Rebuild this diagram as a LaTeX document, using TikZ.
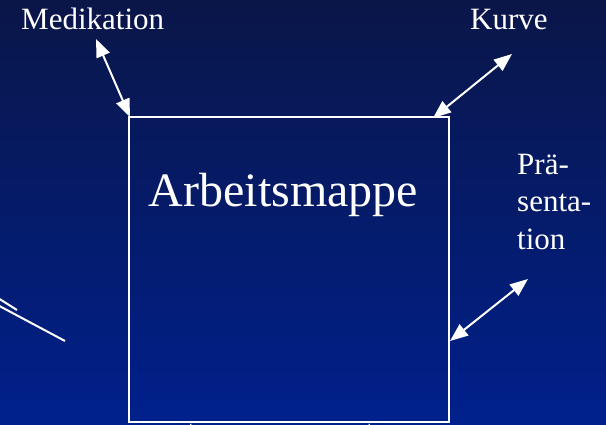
\documentclass[tikz,border=0pt]{standalone}
\usepackage{fontspec}
\setmainfont{Liberation Serif}
\usetikzlibrary{arrows.meta}
\definecolor{bgtop}{RGB}{10,22,72}
\definecolor{bgbot}{RGB}{0,32,140}
\begin{document}
\begin{tikzpicture}[x=1pt,y=-1pt,
  lbl/.style={text=white,font=\fontsize{31}{37}\selectfont,inner sep=0pt},
  dbl/.style={draw=white,line width=2pt,{Triangle[length=18pt,width=14pt]}-{Triangle[length=18pt,width=14pt]}},
  sgl/.style={draw=white,line width=2pt,-{Triangle[length=18pt,width=14pt]}},
  plain/.style={draw=white,line width=2pt}]
\useasboundingbox (0,0) rectangle (606,425);
\shade[top color=bgtop,bottom color=bgbot] (0,0) rectangle (606,425);
\clip (0,0) rectangle (606,425);
\node[draw=white,line width=2.5pt,minimum width=320pt,minimum height=305pt,inner sep=0pt] (box) at (289,269.5) {};
\node[text=white,font=\fontsize{48}{56}\selectfont,inner sep=0pt,anchor=base] (title) at (283.5,207) {Arbeitsmappe};
\node[lbl,anchor=base west] (med) at (21,30) {Medikation};
\node[lbl,anchor=base west] (kur) at (470,30) {Kurve};
\node[lbl,anchor=base west] (pra1) at (517,175) {Prä-};
\node[lbl,anchor=base west] (pra2) at (517,212) {senta-};
\node[lbl,anchor=base west] (pra3) at (517,250) {tion};
\coordinate (m1) at (96,39);
\coordinate (m2) at (130,117);
\coordinate (k1) at (512,54);
\coordinate (k2) at (433,118);
\coordinate (p1) at (528,279);
\coordinate (p2) at (450,341);
\coordinate (b1) at (191,423);
\coordinate (b1s) at (186,470);
\coordinate (b2) at (369,423);
\coordinate (b2s) at (374,470);
\coordinate (l1a) at (-10,293);
\coordinate (l1b) at (17,310);
\coordinate (l2a) at (-10,301);
\coordinate (l2b) at (65,341);
\draw[dbl] (m1) -- (m2);
\draw[dbl] (k1) -- (k2);
\draw[dbl] (p1) -- (p2);
\draw[sgl] (b1s) -- (b1);
\draw[sgl] (b2s) -- (b2);
\draw[plain] (l1a) -- (l1b);
\draw[plain] (l2a) -- (l2b);
\end{tikzpicture}
\end{document}
